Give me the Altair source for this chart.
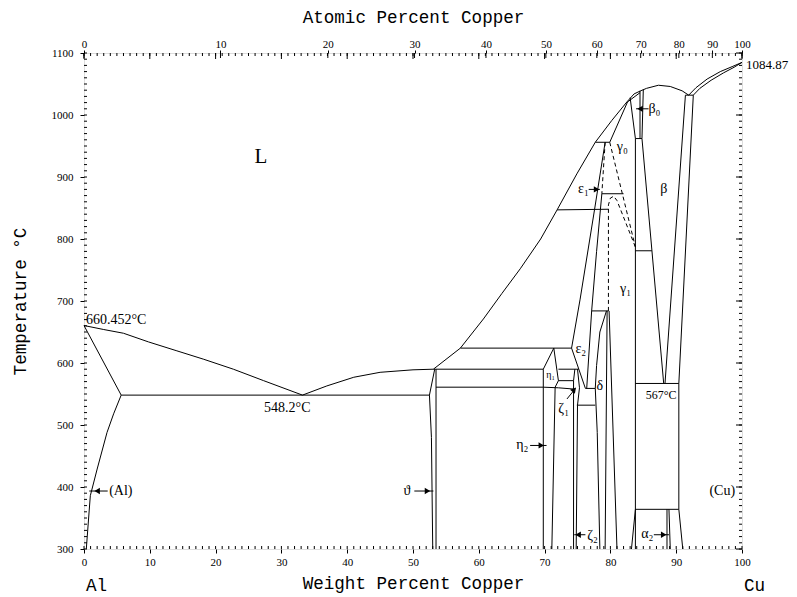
import altair as alt
import pandas as pd

# ---------------- phase boundaries (wt% Cu, temperature °C) ----------------
liq_al = [(0, 660.452), (3, 654), (6.0, 648), (9.8, 634), (14, 620), (18.2, 606),
          (22.7, 590), (27.3, 571.5), (33.2, 548.2)]
liq_main = [(33.2, 548.2), (36.9, 563), (41, 577), (45, 585), (50, 589), (53.1, 590),
            (57.2, 624), (60.7, 671), (63.5, 712), (66.3, 752), (69.4, 800), (71.9, 847),
            (74.9, 905), (77.7, 956), (80.2, 991), (82.5, 1021), (83.6, 1034), (84.6, 1039),
            (85.5, 1043), (87.3, 1048), (89.1, 1046), (90.9, 1039), (91.9, 1032)]
sol_al = [(0, 660.452), (5.65, 548.2)]
solvus_al = [(5.65, 548.2), (4.5, 518), (3.5, 488), (2.0, 429), (0.96, 386), (0.35, 300)]
eut_548 = [(5.65, 548.2), (52.5, 548.2)]
theta_left = [(53.3, 590), (52.5, 548.2), (52.8, 480), (53.0, 300)]
theta_right = [(53.5, 590), (53.5, 300)]
h590a = [(53.1, 590), (69.8, 590)]
h624 = [(57.2, 624), (74.1, 624)]
h561 = [(53.5, 561), (69.8, 561), (72.1, 560), (74.4, 558)]
eta1_left = [(71.4, 624), (69.8, 590), (69.8, 300)]
eta1_right = [(71.4, 624), (72.1, 571.5)]
eta2_right = [(72.1, 571.5), (71.6, 561), (71.1, 300)]
h590b = [(72.1, 590), (75.2, 590)]
h571 = [(72.1, 571.5), (74.4, 571.5)]
zeta_left = [(74.6, 590), (74.4, 571.5), (74.4, 300)]
zeta_right = [(75.0, 590), (75.3, 560), (75.0, 532), (74.8, 300)]
eps_left = [(79.2, 956), (77.6, 848), (75.4, 703), (74.1, 624), (75.2, 590), (76.2, 559)]
eps_right = [(78.7, 873), (77.9, 780), (77.15, 684), (76.4, 559)]
h873 = [(78.7, 873), (82.0, 873)]
h848 = [(71.9, 847), (79.7, 848)]
h958 = [(77.7, 956), (79.9, 956)]
gamma0_left = [(79.9, 956), (82.6, 1021)]
gamma0_top = [(82.6, 1021), (84.5, 1036)]
gamma0_right = [(83.0, 1028), (83.8, 962)]
beta0_line = [(84.5, 1039), (84.5, 962)]
h962 = [(83.8, 962), (84.8, 962)]
gamma1_right = [(83.8, 962), (83.8, 300)]
beta_left = [(85.0, 1041), (84.8, 962), (88.1, 567)]
beta_right = [(91.4, 1032), (88.3, 567)]
alpha_solvus = [(92.6, 1032), (90.4, 567), (90.4, 364), (91.0, 300)]
h567 = [(83.8, 567), (90.4, 567)]
h364 = [(83.8, 364), (90.4, 364)]
alpha2_a = [(88.6, 364), (88.6, 300)]
alpha2_b = [(88.9, 364), (89.1, 300)]
low_left = [(83.8, 364), (83.2, 300)]
h1032 = [(91.4, 1032), (92.6, 1032)]
liq_cu = [(91.9, 1032), (93, 1044), (94.7, 1058), (96.7, 1070), (98.5, 1078), (100, 1084.87)]
sol_cu = [(92.6, 1032), (93.6, 1043), (95.3, 1056), (97.2, 1068), (98.8, 1077), (100, 1084.87)]
h781 = [(83.8, 781), (86.3, 781)]
h684 = [(77.15, 684), (79.7, 684)]
delta_left = [(79.4, 684), (78.4, 650), (77.9, 596), (77.7, 559), (78.0, 488), (78.4, 300)]
delta_right = [(79.5, 684), (79.2, 300)]
gamma1_left = [(79.8, 684), (81.0, 300)]
h559 = [(76.2, 559), (77.7, 559)]
h532 = [(74.9, 532), (77.7, 532)]

# dashed boundaries
dash_eps1 = [(79.2, 956), (78.7, 873)]
dash_gamma0 = [(79.9, 956), (83.8, 787)]
dash_gamma1 = [(79.7, 684), (79.7, 855), (80.0, 866), (80.5, 869), (81.0, 862), (83.8, 787)]

solid_lines = {
    "liq_al": liq_al, "liq_main": liq_main, "sol_al": sol_al, "solvus_al": solvus_al,
    "eut_548": eut_548, "theta_left": theta_left, "theta_right": theta_right,
    "h590a": h590a, "h624": h624, "h561": h561, "eta1_left": eta1_left,
    "eta1_right": eta1_right, "eta2_right": eta2_right, "h590b": h590b, "h571": h571,
    "zeta_left": zeta_left, "zeta_right": zeta_right, "eps_left": eps_left,
    "eps_right": eps_right, "h873": h873, "h848": h848, "h958": h958,
    "gamma0_left": gamma0_left, "gamma0_top": gamma0_top, "gamma0_right": gamma0_right,
    "beta0_line": beta0_line, "h962": h962, "gamma1_right": gamma1_right,
    "beta_left": beta_left, "beta_right": beta_right, "alpha_solvus": alpha_solvus,
    "h567": h567, "h364": h364, "alpha2_a": alpha2_a, "alpha2_b": alpha2_b,
    "low_left": low_left, "h1032": h1032, "liq_cu": liq_cu, "sol_cu": sol_cu,
    "h781": h781, "h684": h684, "delta_left": delta_left, "delta_right": delta_right,
    "gamma1_left": gamma1_left, "h559": h559, "h532": h532,
}
dashed_lines = {"dash_eps1": dash_eps1, "dash_gamma0": dash_gamma0, "dash_gamma1": dash_gamma1}

# ---------------- labels ----------------
phase_labels = [("γ₀", 81.8, 948), ("γ₁", 82.3, 719), ("β", 88.1, 881), ("β₀", 86.7, 1010),
                ("ε₁", 75.9, 880), ("ε₂", 75.5, 623), ("δ", 78.4, 563), ("ζ₁", 72.9, 526),
                ("ζ₂", 77.3, 321), ("η₂", 66.6, 467), ("α₂", 85.6, 324), ("ϑ", 49.1, 393.5),
                ("(Al)", 5.6, 393.5), ("(Cu)", 97.0, 393.5)]
small_labels = [("η₁", 70.9, 580)]
big_labels = [("L", 26.9, 932)]
temp_left = [("660.452°C", 0.3, 669)]
temp_mid = [("548.2°C", 30.9, 527)]
temp_small = [("567°C", 87.7, 548)]
melt_label = [("1084.87", 100, 1080)]
end_labels = [("Al", 0, 300), ("Cu", 100, 300)]

# arrows: (tail wt, head wt, T) horizontal, and head marker positions
arrows_h = [(0.8, 3.6, 393.5), (50.2, 53.1, 393.5), (67.8, 70.3, 467), (74.5, 76.2, 323),
            (86.6, 88.9, 323), (83.9, 85.8, 1010), (76.7, 78.4, 880)]
heads_left = [(2.0, 393.5), (75.1, 323), (84.5, 1010)]
heads_right = [(52.2, 393.5), (69.5, 467), (88.1, 323), (77.9, 880)]
arrow_diag = [(73.4, 542, 74.7, 559)]
heads_diag = [(74.5, 557)]

# axis ticks
wt_minor = list(range(0, 101))
wt_major = list(range(0, 101, 10))
T_minor = list(range(300, 1101, 10))
T_major = list(range(300, 1101, 100))
at_major = list(range(0, 101, 10))
M_CU, M_AL = 63.546, 26.9815
at_pos = [100 * a * M_CU / (a * M_CU + (100 - a) * M_AL) for a in at_major]

SERIF = "Liberation Serif"
MONO = "Liberation Mono"
YTITLE = "Temperature °C"

XS = alt.Scale(domain=[0, 100], nice=False, zero=False)
YS = alt.Scale(domain=[300, 1100], nice=False, zero=False)


def rows(d):
    out = []
    for name, pts in d.items():
        for i, (w, t) in enumerate(pts):
            out.append({"name": name, "i": i, "wt": w, "T": t})
    return pd.DataFrame(out)


XAX = alt.Axis(orient="bottom", values=wt_major, tickSize=4, tickColor="black",
               labelFont=SERIF, labelFontSize=11, labelColor="black", labelPadding=3,
               labelFlush=False, labelOverlap=False,
               title="Weight Percent Copper", titleFont=MONO, titleFontSize=17.6,
               titleFontWeight="normal", titleColor="black", titlePadding=7,
               domain=False, grid=False)
YAX = alt.Axis(orient="left", values=T_major, format="d", tickSize=4, tickColor="black",
               labelFont=SERIF, labelFontSize=11, labelColor="black", labelPadding=7,
               labelFlush=False, labelOverlap=False, title=YTITLE, titleFont=MONO,
               titleFontSize=17.6, titleFontWeight="normal", titleColor="black",
               titlePadding=22, domain=False, grid=False)
TAX = alt.Axis(orient="top", values=at_pos, tickSize=3, tickColor="black",
               labelExpr="round(100*(datum.value/63.546)/(datum.value/63.546+(100-datum.value)/26.9815))",
               labelFont=SERIF, labelFontSize=11, labelColor="black", labelPadding=1,
               labelFlush=False, labelOverlap=False,
               title="Atomic Percent Copper", titleFont=MONO, titleFontSize=17.6,
               titleFontWeight="normal", titleColor="black", titlePadding=12,
               domain=False, grid=False)

solid_df = rows(solid_lines)
dashed_df = rows(dashed_lines)

lines = alt.Chart(solid_df).mark_line(color="black", strokeWidth=1).encode(
    x=alt.X("wt:Q", scale=XS, axis=XAX),
    y=alt.Y("T:Q", scale=YS, axis=YAX, title=YTITLE),
    detail="name:N", order="i:Q")

dashed = alt.Chart(dashed_df).mark_line(color="black", strokeWidth=1, strokeDash=[4, 3]).encode(
    x=alt.X("wt:Q", scale=XS, axis=None),
    y=alt.Y("T:Q", scale=YS, axis=YAX, title=YTITLE),
    detail="name:N", order="i:Q")


def xticks(vals, at_T, off, axis=None):
    return alt.Chart(pd.DataFrame({"w": vals})).mark_rule(
        color="black", strokeWidth=1, y2Offset=off).encode(
        x=alt.X("w:Q", scale=XS, axis=axis),
        y=alt.Y(datum=at_T, scale=YS, axis=YAX, title=YTITLE),
        y2=alt.Y2(datum=at_T))


def yticks(vals, at_w, off):
    return alt.Chart(pd.DataFrame({"t": vals})).mark_rule(
        color="black", strokeWidth=1, x2Offset=off).encode(
        y=alt.Y("t:Q", scale=YS, axis=YAX, title=YTITLE),
        x=alt.X(datum=at_w, scale=XS, axis=None),
        x2=alt.X2(datum=at_w))


bottom_minor = xticks(wt_minor, 300, -3)
top_minor = xticks(wt_minor, 1100, 3)
top_medium = xticks(wt_major, 1100, 6)
top_axis = xticks(at_pos, 1100, 5, axis=TAX)
left_minor = yticks(T_minor, 0, 3)
right_minor = yticks(T_minor, 100, -3)
right_major = yticks(T_major, 100, -6)


def text_layer(items, font, size, align="center", dx=0, dy=0, baseline="middle"):
    df = pd.DataFrame(items, columns=["txt", "wt", "T"])
    return alt.Chart(df).mark_text(font=font, fontSize=size, align=align, dx=dx, dy=dy,
                                   baseline=baseline, color="black").encode(
        x=alt.X("wt:Q", scale=XS, axis=None),
        y=alt.Y("T:Q", scale=YS, axis=YAX, title=YTITLE),
        text="txt:N")


t_phase = text_layer(phase_labels, SERIF, 14)
t_small = text_layer(small_labels, SERIF, 10)
t_big = text_layer(big_labels, SERIF, 21)
t_660 = text_layer(temp_left, SERIF, 14, align="left")
t_548 = text_layer(temp_mid, SERIF, 14)
t_567 = text_layer(temp_small, SERIF, 12)
t_melt = text_layer(melt_label, SERIF, 13, align="left", dx=4)
t_ends = text_layer(end_labels, MONO, 17.6, align="left", dx=2, dy=37)

arr_df = pd.DataFrame(arrows_h, columns=["w1", "w2", "T"])
arr = alt.Chart(arr_df).mark_rule(color="black", strokeWidth=1).encode(
    x=alt.X("w1:Q", scale=XS, axis=None), x2="w2:Q",
    y=alt.Y("T:Q", scale=YS, axis=YAX, title=YTITLE))
diag_df = pd.DataFrame(arrow_diag, columns=["w1", "T1", "w2", "T2"])
diag = alt.Chart(diag_df).mark_rule(color="black", strokeWidth=1).encode(
    x=alt.X("w1:Q", scale=XS, axis=None), x2="w2:Q",
    y=alt.Y("T1:Q", scale=YS, axis=YAX, title=YTITLE), y2="T2:Q")


def heads(items, shape, angle=0):
    df = pd.DataFrame(items, columns=["wt", "T"])
    return alt.Chart(df).mark_point(shape=shape, filled=True, size=40, color="black",
                                    opacity=1, angle=angle).encode(
        x=alt.X("wt:Q", scale=XS, axis=None),
        y=alt.Y("T:Q", scale=YS, axis=YAX, title=YTITLE))


h_left = heads(heads_left, "triangle-left")
h_right = heads(heads_right, "triangle-right")
h_diag = heads(heads_diag, "triangle-up", angle=40)

chart = alt.layer(
    lines, dashed, bottom_minor, top_minor, top_medium, top_axis, left_minor,
    right_minor, right_major, arr, diag, h_left, h_right, h_diag,
    t_phase, t_small, t_big, t_660, t_548, t_567, t_melt, t_ends,
).resolve_axis(x="independent").properties(
    width=658, height=496,
    padding={"left": 3, "top": 0, "right": 0, "bottom": 0},
).configure_view(stroke="black", strokeWidth=1).configure(background="white")

chart.save("out.html", embed_options={"renderer": "svg", "actions": False})
